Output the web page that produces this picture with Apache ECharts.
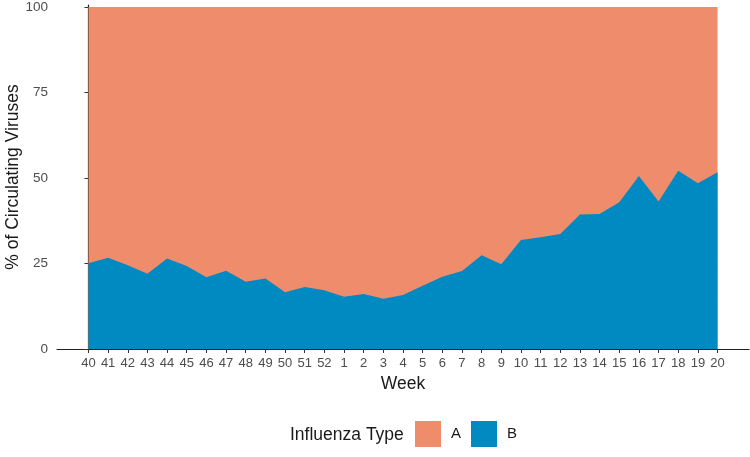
<!DOCTYPE html>
<html>
<head>
<meta charset="utf-8">
<script src="https://cdn.jsdelivr.net/npm/echarts@6/dist/echarts.min.js"></script>
<style>
  html, body { margin: 0; padding: 0; background: #fff; }
  #chart { width: 750px; height: 457px; }
</style>
</head>
<body>
<div id="chart"></div>
<script>
const weeks = ["40", "41", "42", "43", "44", "45", "46", "47", "48", "49", "50", "51", "52",
    "1", "2", "3", "4", "5", "6", "7", "8", "9", "10", "11", "12", "13", "14", "15", "16", "17", "18", "19", "20"]
const typeB = [25.1, 26.7, 24.5, 22.0, 26.5, 24.3, 21.0, 22.9, 19.7, 20.6, 16.6, 18.1, 17.2,
    15.3, 16.1, 14.7, 15.8, 18.5, 21.1, 22.8, 27.4, 24.8, 31.9, 32.7, 33.6, 39.3, 39.5, 42.9, 50.6, 43.1, 52.1, 48.5, 51.7]
const typeA = [74.9, 73.3, 75.5, 78.0, 73.5, 75.7, 79.0, 77.1, 80.3, 79.4, 83.4, 81.9, 82.8,
    84.7, 83.9, 85.3, 84.2, 81.5, 78.9, 77.2, 72.6, 75.2, 68.1, 67.3, 66.4, 60.7, 60.5, 57.1, 49.4, 56.9, 47.9, 51.5, 48.3]
const yTicks = [0, 25, 50, 75, 100]

const colorA = "#EE8C6C"
const colorB = "#0189C2"
const font = "Liberation Sans"

const chart = echarts.init(document.getElementById("chart"), null, { renderer: "canvas" })

const xIdx = weeks.map((w, i) => i)

// A sits on top of B, so its outline is the running total (B + A)
const totalTop = typeB.map((b, i) => [i, b + typeA[i]])

chart.setOption({
    animation: false,
    textStyle: { fontFamily: font },
    grid: { left: 57, right: 1, top: 5, bottom: 108, outerBoundsMode: "none", containLabel: false },
    xAxis: {
        type: "value",
        min: -1.6,
        max: 33.6,
        name: "Week",
        nameLocation: "middle",
        nameGap: 23,
        nameTextStyle: { color: "#1a1a1a", fontSize: 17.5, fontFamily: font },
        splitLine: { show: false },
        axisLine: { show: true, lineStyle: { color: "#222", width: 1.2 } },
        axisTick: { show: true, length: 4, customValues: xIdx, lineStyle: { color: "#333" } },
        axisLabel: {
            customValues: xIdx,
            margin: 8,
            fontSize: 13,
            color: "#4d4d4d",
            formatter: (v) => weeks[Math.round(v)],
        },
    },
    yAxis: {
        type: "value",
        min: 0,
        max: 100.6,
        splitLine: { show: false },
        axisLine: { show: true, lineStyle: { color: "#222", width: 1.2 } },
        axisTick: { show: true, length: 4, customValues: yTicks, lineStyle: { color: "#333" } },
        axisLabel: {
            customValues: yTicks,
            margin: 9,
            fontSize: 13.5,
            color: "#4d4d4d",
        },
    },
    legend: {
        left: 410,
        top: 416,
        itemWidth: 26,
        itemHeight: 26,
        itemGap: 10,
        icon: "rect",
        textStyle: { fontSize: 15, color: "#1a1a1a", padding: [0, 0, 0, 5] },
        data: ["A", "B"],
    },
    graphic: [
        {
            type: "text",
            left: 290,
            top: 426,
            style: { text: "Influenza Type", fontSize: 17.5, fill: "#1a1a1a", fontFamily: font },
        },
        {
            type: "text",
            x: 13,
            y: 177,
            rotation: Math.PI / 2,
            style: {
                text: "% of Circulating Viruses",
                fontSize: 17.5,
                fill: "#1a1a1a",
                fontFamily: font,
                align: "center",
                verticalAlign: "middle",
            },
        },
    ],
    series: [
        {
            name: "A",
            type: "line",
            symbol: "none",
            z: 1,
            lineStyle: { width: 0 },
            itemStyle: { color: colorA },
            areaStyle: { color: colorA, opacity: 1 },
            data: totalTop,
        },
        {
            name: "B",
            type: "line",
            symbol: "none",
            z: 2,
            lineStyle: { width: 0 },
            itemStyle: { color: colorB },
            areaStyle: { color: colorB, opacity: 1 },
            data: typeB.map((v, i) => [i, v]),
        },
    ],
})
</script>
</body>
</html>
